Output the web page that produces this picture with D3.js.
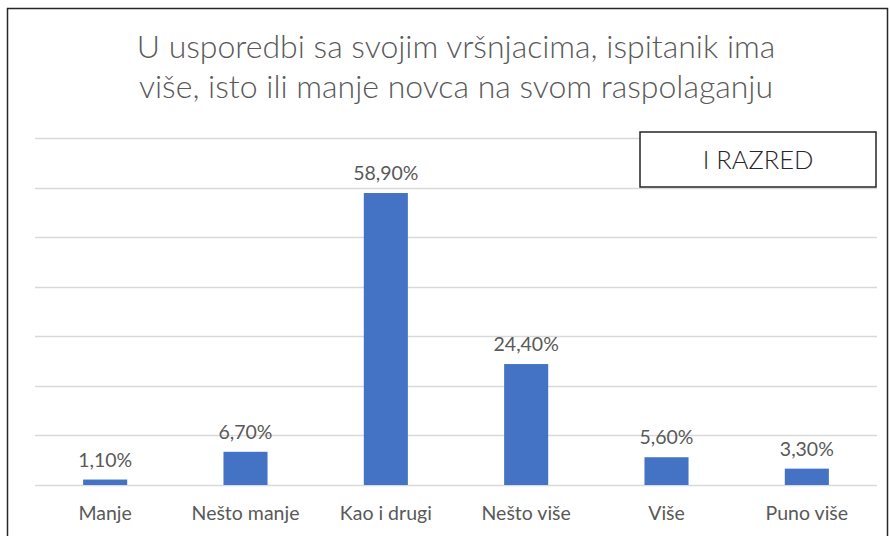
<!DOCTYPE html>
<html>
<head>
<meta charset="utf-8">
<script src="https://cdn.jsdelivr.net/npm/d3@7"></script>
<style>
  html, body { margin: 0; padding: 0; background: #fff; }
  svg { display: block; }
  text { font-family: Lato, "Open Sans", sans-serif; }
</style>
</head>
<body>
<svg id="chart" width="890" height="536"></svg>
<script>
// chart data
const categories = ['Manje', 'Nešto manje', 'Kao i drugi', 'Nešto više', 'Više', 'Puno više'];
const values = [1.1, 6.7, 58.9, 24.4, 5.6, 3.3];
const yTicks = [0, 10, 20, 30, 40, 50, 60, 70];
const titleLines = ['U usporedbi sa svojim vršnjacima, ispitanik ima', 'više, isto ili manje novca na svom raspolaganju'];
const boxLabel = 'I RAZRED';

const svg = d3.select('#chart');
const plot = { left: 35, right: 877, top: 138, bottom: 485 };

// outer frame
svg.append('rect')
    .attr('x', 7.5).attr('y', 8.5)
    .attr('width', 880).attr('height', 540)
    .attr('fill', '#fff')
    .attr('stroke', '#262626')
    .attr('stroke-width', 1.5);

// title
svg.append('g').selectAll('text')
    .data(titleLines)
    .join('text')
    .attr('x', 456)
    .attr('y', (d, i) => 58 + i * 40)
    .attr('text-anchor', 'middle')
    .attr('font-size', 32)
    .attr('font-weight', 300)
    .attr('fill', '#595959')
    .text(d => d);

const x = d3.scaleBand()
    .domain(categories)
    .range([plot.left, plot.right])
    .paddingInner(0.686)
    .paddingOuter(0.343);

const y = d3.scaleLinear()
    .domain([0, 70])
    .range([plot.bottom, plot.top]);

// gridlines
svg.append('g').selectAll('line')
    .data(yTicks)
    .join('line')
    .attr('x1', plot.left).attr('x2', plot.right)
    .attr('y1', d => Math.round(y(d)) + 0.5)
    .attr('y2', d => Math.round(y(d)) + 0.5)
    .attr('stroke', '#d9d9d9')
    .attr('stroke-width', 1.3);

// bars
svg.append('g').selectAll('rect')
    .data(values)
    .join('rect')
    .attr('x', (d, i) => x(categories[i]))
    .attr('y', d => y(d))
    .attr('width', x.bandwidth())
    .attr('height', d => y(0) - y(d))
    .attr('fill', '#4472c4');

// value labels
const fmt = v => v.toFixed(2).replace('.', ',') + '%';
svg.append('g').selectAll('text')
    .data(values)
    .join('text')
    .attr('x', (d, i) => x(categories[i]) + x.bandwidth() / 2)
    .attr('y', d => y(d) - 13)
    .attr('text-anchor', 'middle')
    .attr('font-size', 19.5)
    .attr('fill', '#595959')
    .text(fmt);

// category axis
const xAxis = svg.append('g')
    .attr('transform', `translate(0,${plot.bottom})`)
    .call(d3.axisBottom(x).tickSize(0).tickPadding(21));
xAxis.select('.domain').remove();
xAxis.selectAll('text')
    .attr('font-family', 'Lato, "Open Sans", sans-serif')
    .attr('font-size', 19.5)
    .attr('fill', '#595959');

// class box
const box = svg.append('g').attr('transform', 'translate(640,132)');
box.append('rect')
    .attr('width', 236).attr('height', 55)
    .attr('fill', '#fff')
    .attr('stroke', '#262626')
    .attr('stroke-width', 1.5);
box.append('text')
    .attr('x', 118).attr('y', 37)
    .attr('text-anchor', 'middle')
    .attr('font-size', 25.5)
    .attr('font-weight', 300)
    .attr('fill', '#262626')
    .text(boxLabel);
</script>
</body>
</html>
